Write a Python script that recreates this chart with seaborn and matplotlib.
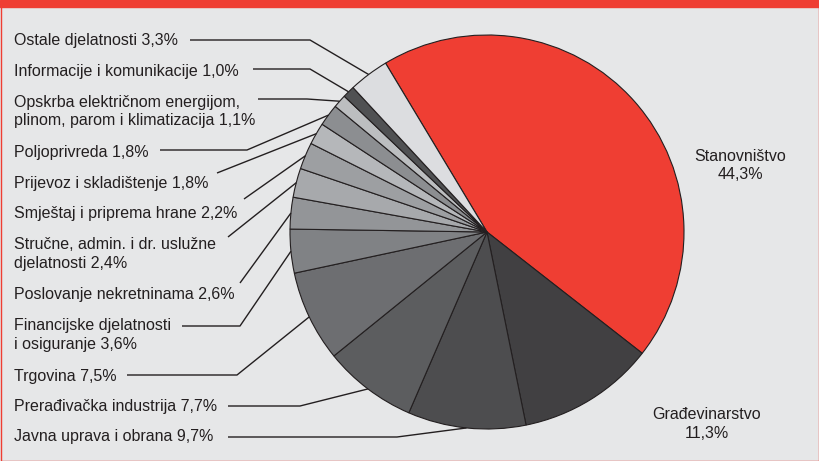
"""
Struktura - pie chart with left-side labels and leader lines
"""

import numpy as np
import matplotlib.pyplot as plt
import seaborn as sns
from matplotlib.patches import Rectangle

# ---------- DATA ----------
sectors = [
    "Stanovništvo", "Građevinarstvo", "Javna uprava i obrana",
    "Prerađivačka industrija", "Trgovina", "Financijske djelatnosti\ni osiguranje",
    "Poslovanje nekretninama", "Stručne, admin. i dr. uslužne\ndjelatnosti",
    "Smještaj i priprema hrane", "Prijevoz i skladištenje", "Poljoprivreda",
    "Opskrba električnom energijom,\nplinom, parom i klimatizacija",
    "Informacije i komunikacije", "Ostale djelatnosti",
]
shares = [44.3, 11.3, 9.7, 7.7, 7.5, 3.6, 2.6, 2.4, 2.2, 1.8, 1.8, 1.1, 1.0, 3.3]
colors = [
    "#ef3e33", "#414042", "#4d4d4f", "#5c5d5f", "#6d6e71", "#808285",
    "#939598", "#a7a9ac", "#9d9fa2", "#b5b7ba", "#8c8e91", "#bcbec0",
    "#505153", "#dcdde0",
]

# ---------- STYLE ----------
sns.set_style("white")
plt.rcParams["font.family"] = ["Liberation Sans", "DejaVu Sans"]
BG = "#e6e7e8"
INK = "#231f20"
FS = 11.5
W, H = 820, 461

fig = plt.figure(figsize=(8.2, 4.61), dpi=100, facecolor=BG)
ax = fig.add_axes([0, 0, 1, 1])
ax.set_facecolor(BG)

# pixel helper (y measured from top)
def py(y):
    return H - y

def pct(v):
    return f"{v:.1f}%".replace(".", ",")

cx, cy, R = 487, py(232), 197
wedges, _ = ax.pie(
    shares, colors=colors, startangle=121, counterclock=False,
    center=(cx, cy), radius=R, frame=True,
    wedgeprops=dict(edgecolor=INK, linewidth=0.8),
)
ax.set_xlim(0, W)
ax.set_ylim(0, H)
ax.set_aspect("equal")
ax.axis("off")

def edge_point(w):
    a = np.deg2rad((w.theta1 + w.theta2) / 2)
    return cx + R * np.cos(a), cy + R * np.sin(a)

# ---------- LEFT LABELS ----------
# (slice index, text centre y, leader polyline start points)
left = [
    (13, 40, [(190, 40), (310, 40)]),
    (12, 71, [(253, 69), (310, 69)]),
    (11, 111.5, [(258, 99), (307, 99)]),
    (10, 152, [(160, 150), (247, 150)]),
    (9, 183, [(217, 173)]),
    (8, 213, [(244, 199)]),
    (7, 254, [(228, 237)]),
    (6, 294, [(240, 283)]),
    (5, 335, [(182, 326), (240, 326)]),
    (4, 376, [(127, 375), (237, 375)]),
    (3, 406, [(228, 406), (300, 406)]),
    (2, 437, [(228, 437), (397, 437)]),
]
for i, ty, pts in left:
    ax.text(14, py(ty), f"{sectors[i]} {pct(shares[i])}", fontsize=FS, color=INK,
            va="center", ha="left", linespacing=1.3)
    xs = [p[0] for p in pts]
    ys = [py(p[1]) for p in pts]
    ex, ey = edge_point(wedges[i])
    ax.plot(xs + [ex], ys + [ey], color=INK, lw=1.0, solid_capstyle="butt")

# ---------- RIGHT LABELS ----------
ax.text(740, py(165.5), f"{sectors[0]}\n{pct(shares[0])}",
        fontsize=FS, color=INK, ha="center", va="center", linespacing=1.3)
ax.text(707, py(424), f"{sectors[1]}\n{pct(shares[1])}",
        fontsize=FS, color=INK, ha="center", va="center", linespacing=1.3)

# ---------- FRAME ----------
ax.add_patch(Rectangle((0, H - 7), W, 7, color="#ef3e33", zorder=5))
ax.add_patch(Rectangle((0.5, 0), W - 1, H, fill=False, edgecolor="#ef3e33", lw=1.0, zorder=5))

plt.savefig("out.png", dpi=100, facecolor=BG)
plt.close()
